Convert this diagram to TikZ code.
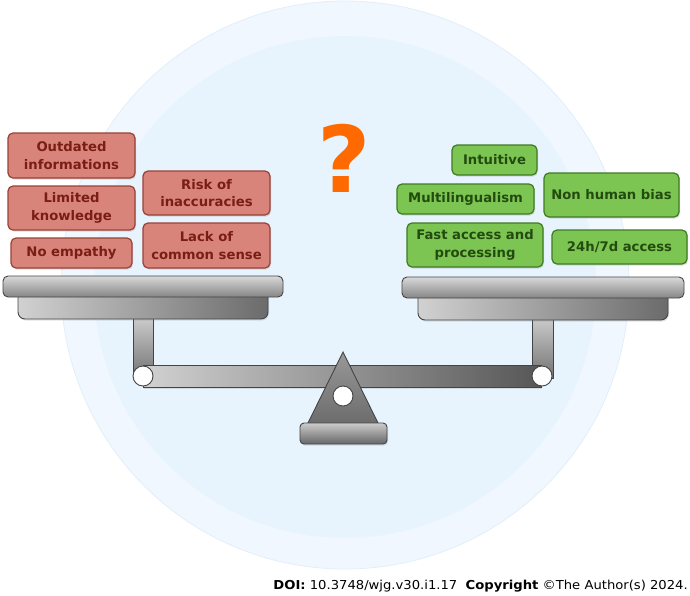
\documentclass[tikz,border=0pt]{standalone}
\usepackage{fontspec}
\setmainfont{DejaVu Sans}
\newfontfamily\footfont[FakeStretch=1.07]{DejaVu Sans}
\usetikzlibrary{shadows}
\definecolor{outerblue}{HTML}{F0F7FE}
\definecolor{outeredge}{HTML}{E2EFFA}
\definecolor{innerblue}{HTML}{E7F4FE}
\definecolor{redfill}{HTML}{D9847B}
\definecolor{redline}{HTML}{9A4137}
\definecolor{redtext}{HTML}{7A1E14}
\definecolor{greenfill}{HTML}{7DC552}
\definecolor{greenline}{HTML}{3F7A22}
\definecolor{greentext}{HTML}{234B10}
\definecolor{metaledge}{HTML}{444444}
\definecolor{qorange}{HTML}{FF6A00}
\begin{document}
\begin{tikzpicture}[x=1pt,y=-1pt,
  box/.style={rounded corners=5pt, line width=1.2pt, align=center, inner sep=0pt,
    font=\fontsize{13.2}{17.5}\selectfont\bfseries,
    drop shadow={opacity=0.25,shadow xshift=1pt,shadow yshift=-1.5pt}},
  redbox/.style={box, fill=redfill, draw=redline, text=redtext},
  greenbox/.style={box, fill=greenfill, draw=greenline, text=greentext},
  metal/.style={draw=metaledge, line width=0.9pt},
  softshadow/.style={drop shadow={opacity=0.22,shadow xshift=1pt,shadow yshift=-1.5pt}},
  pin/.style={metal, fill=white}]
\useasboundingbox (0,0) rectangle (690,595);
% background discs
\fill[outerblue, draw=outeredge, line width=0.8pt] (345,285) circle[radius=284];
\fill[innerblue] (345,287) circle[radius=251];
% question mark
\node[text=qorange, font=\fontsize{92}{92}\selectfont\bfseries] (q) at (344.5,158) {?};
% left boxes
\node[redbox, minimum width=127pt, minimum height=45pt] (out) at (71.5,155.5) {Outdated\\informations};
\node[redbox, minimum width=127pt, minimum height=44pt] (lim) at (71.5,208) {Limited\\knowledge};
\node[redbox, minimum width=121pt, minimum height=30pt] (emp) at (71.5,253) {No empathy};
\node[redbox, minimum width=127pt, minimum height=44pt] (risk) at (206.5,193) {Risk of\\inaccuracies};
\node[redbox, minimum width=127pt, minimum height=45pt] (lack) at (206.5,245.5) {Lack of\\common sense};
% right boxes
\node[greenbox, minimum width=85pt, minimum height=30pt] (intu) at (494.5,160) {Intuitive};
\node[greenbox, minimum width=137pt, minimum height=30pt] (multi) at (465.5,199) {Multilingualism};
\node[greenbox, minimum width=135pt, minimum height=44pt] (nonh) at (611.5,195) {Non human bias};
\node[greenbox, minimum width=136pt, minimum height=44pt] (fast) at (475,245) {Fast access and\\processing};
\node[greenbox, minimum width=135pt, minimum height=34pt] (hday) at (619.5,247) {24h/7d access};
% posts
\draw[metal, top color=black!17, bottom color=black!55] (133,312) rectangle (153,378);
\draw[metal, top color=black!17, bottom color=black!55] (532,312) rectangle (553,378);
% beam
\draw[metal, left color=black!18, right color=black!66, softshadow] (143,365) rectangle (541,387);
\draw[pin] (143,376) circle[radius=10];
\draw[pin] (542,376) circle[radius=10];
% lower plates
\draw[metal, left color=black!18, right color=black!58, softshadow] (18,296) [rounded corners=7pt] -- (18,319) -- (268,319) [sharp corners] -- (268,296) -- cycle;
\draw[metal, left color=black!18, right color=black!58, softshadow] (418,297) [rounded corners=7pt] -- (418,320) -- (668,320) [sharp corners] -- (668,297) -- cycle;
% top plates
\draw[metal, rounded corners=5pt, top color=black!15, bottom color=black!48] (3,276) rectangle (283,297);
\draw[metal, rounded corners=5pt, top color=black!15, bottom color=black!48] (402,277) rectangle (684,298);
% fulcrum
\draw[metal, top color=black!40, bottom color=black!58] (343,352) -- (379,425) -- (307,425) -- cycle;
\draw[pin] (343,396) circle[radius=10];
\draw[metal, rounded corners=4pt, top color=black!20, bottom color=black!60, softshadow] (300,423) rectangle (387,444);
% footer
\node[anchor=base east, inner sep=0pt, font=\footfont\fontsize{12.3}{14}\selectfont] (doi) at (688,589) {\textbf{DOI:} 10.3748/wjg.v30.i1.17\ \ \textbf{Copyright} ©The Author(s) 2024.};
\end{tikzpicture}
\end{document}
